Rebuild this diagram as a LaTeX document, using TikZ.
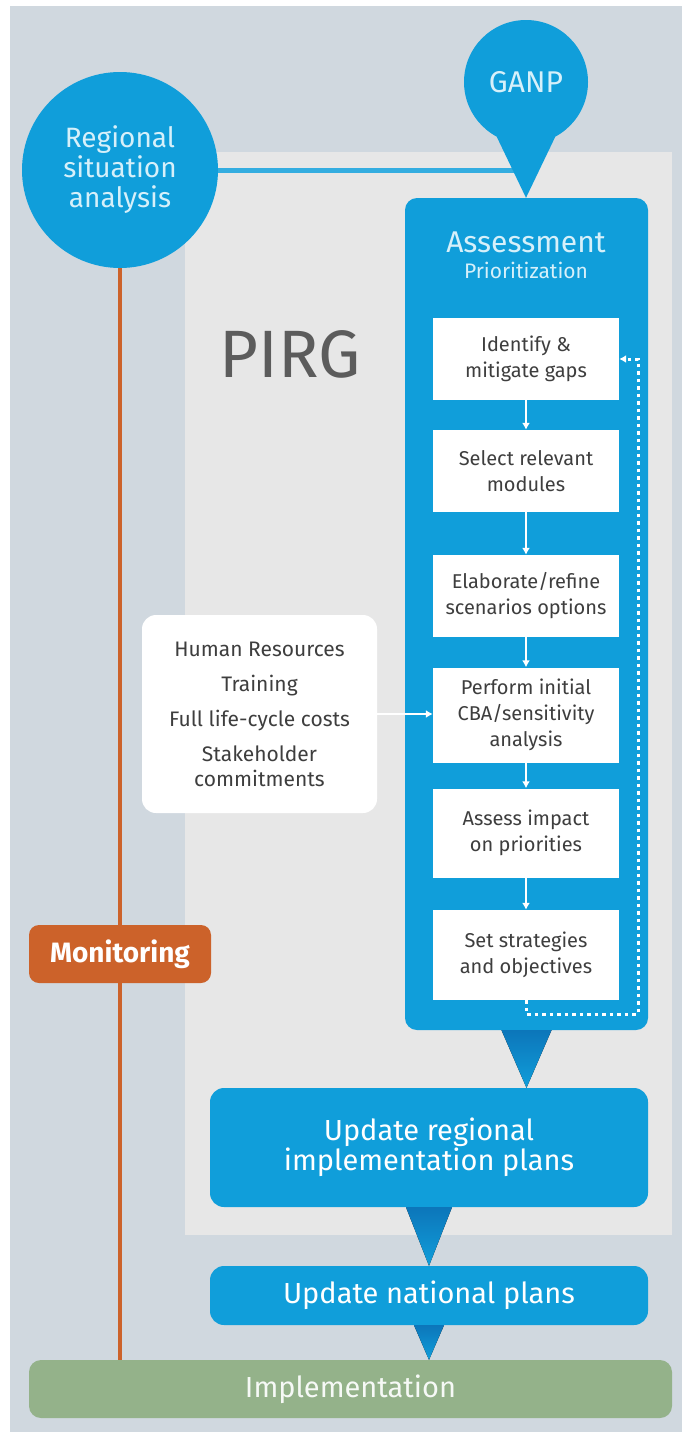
\documentclass[tikz,border=0pt]{standalone}
\usepackage{fontspec}
\setmainfont{Fira Sans}
\usetikzlibrary{positioning, shapes, arrows.meta, calc}
\definecolor{myblue}{RGB}{16,158,218}
\definecolor{mydarkblue}{RGB}{12,118,186}
\definecolor{mygray}{RGB}{208,216,223}
\definecolor{mylight}{RGB}{231,231,231}
\definecolor{myorange}{RGB}{204,98,42}
\definecolor{mygreen}{RGB}{148,178,138}
\definecolor{mytext}{RGB}{62,62,62}
\definecolor{mytitle}{RGB}{214,240,250}
\tikzset{
  bubble/.style={circle, fill=myblue, inner sep=0, align=center, text=mytitle,
    font=\fontsize{28}{30}\selectfont},
  bluebox/.style={rectangle, rounded corners=14, fill=myblue, inner sep=0,
    align=center, text=white, font=\fontsize{29}{30}\selectfont},
  stepbox/.style={rectangle, fill=white, minimum width=186, minimum height=82,
    inner sep=0, align=center, text=mytext, font=\fontsize{20}{26}\selectfont},
  infobox/.style={rectangle, rounded corners=14, fill=white, minimum width=235,
    minimum height=198, inner sep=0, align=center, text=mytext,
    font=\fontsize{21}{25}\selectfont},
  monbox/.style={rectangle, rounded corners=10, fill=myorange, minimum width=182,
    minimum height=58, inner sep=0, text=white, font=\bfseries\fontsize{28}{30}\selectfont},
  implbox/.style={rectangle, rounded corners=12, fill=mygreen, minimum width=643,
    minimum height=58, inner sep=0, text=white!92!mygreen, font=\fontsize{29}{30}\selectfont},
  pointer/.style={top color=mydarkblue, bottom color=myblue},
  flow/.style={draw=white, line width=2.5, -{Latex[length=7,width=8]}},
  feedback/.style={draw=white, line width=3, dash pattern=on 3.5 off 4,
    -{Latex[length=7,width=8]}},
  link/.style={draw=myblue!85!white, line width=5},
  monline/.style={draw=myorange, line width=4}
}
\begin{document}
\begin{tikzpicture}[x=1pt,y=-1pt]
\useasboundingbox (0,0) rectangle (691,1435);

% background panels
\fill[mygray] (10,6) rectangle (682,1432);
\fill[mylight] (185,152) rectangle (672,1235);
\node [text=black!64, font=\fontsize{67}{67}\selectfont, anchor=base] (pirg) at (290,377) {PIRG};

% situation analysis and GANP pin
\node [bubble, minimum size=196] (rsa) at (120,170) {Regional\\situation\\analysis};
\node [bubble, minimum size=124, font=\fontsize{30}{30}\selectfont] (ganp) at (526,82) {GANP};
\node [bluebox, minimum width=243, minimum height=832, rounded corners=12] (assess) at (526.5,614) {};
\coordinate (ganptip) at (ganp.south |- assess.north);
\draw[link] (rsa.east) -- (rsa.east -| ganp.south);
\fill[myblue] (ganp.-118) -- (ganptip) -- (ganp.-62) -- cycle;

\node [text=mytitle, font=\fontsize{30}{30}\selectfont, anchor=base] (asstitle) at (526,252) {Assessment};
\node [text=mytitle, font=\fontsize{21}{21}\selectfont, anchor=base] (asssub) at (526,278) {Prioritization};

% steps inside the assessment
\node [stepbox] (gaps) at (526,359) {Identify \&\\mitigate gaps};
\node [stepbox] (modules) at (526,471) {Select relevant\\modules};
\node [stepbox] (options) at (526,596) {Elaborate/refine\\scenarios options};
\node [stepbox, minimum height=95] (cba) at (526,715) {Perform initial\\CBA/sensitivity\\analysis};
\node [stepbox, minimum height=89] (impact) at (526,833) {Assess impact\\on priorities};
\node [stepbox, minimum height=90] (strategy) at (526,955) {Set strategies\\and objectives};

\draw[flow] (gaps.south) -- (modules.north);
\draw[flow] (modules.south) -- (options.north);
\draw[flow] (options.south) -- (cba.north);
\draw[flow] (cba.south) -- (impact.north);
\draw[flow] (impact.south) -- (strategy.north);

\coordinate (loopcorner) at (638,1014);
\draw[feedback] (strategy.south) |- (loopcorner) |- (gaps.east);

% inputs
\node [infobox] (needs) at (259.5,714) {Human Resources\\[10pt]Training\\[10pt]Full life-cycle costs\\[10pt]Stakeholder\\commitments};
\draw[flow] (needs.east) -- (needs.east -| cba.west);

% plans
\node [bluebox, minimum width=438, minimum height=119] (updreg) at (429,1147.5) {Update regional\\implementation plans};
\node [bluebox, minimum width=438, minimum height=59] (updnat) at (429,1295.5) {Update national plans};
\node [implbox] (impl) at (350.5,1389) {Implementation};

\fill[pointer] ($(assess.south)+(-25,0)$) -- (assess.south |- updreg.north) -- ($(assess.south)+(25,0)$) -- cycle;
\fill[pointer] ($(updreg.south)+(-23,0)$) -- (updreg.south |- updnat.north) -- ($(updreg.south)+(23,0)$) -- cycle;
\fill[pointer] ($(updnat.south)+(-15,0)$) -- (updnat.south |- impl.north) -- ($(updnat.south)+(15,0)$) -- cycle;

% monitoring line
\draw[monline] (rsa.south) -- (rsa.south |- impl.north);
\node [monbox] (monitor) at (120,954) {Monitoring};

\end{tikzpicture}
\end{document}
